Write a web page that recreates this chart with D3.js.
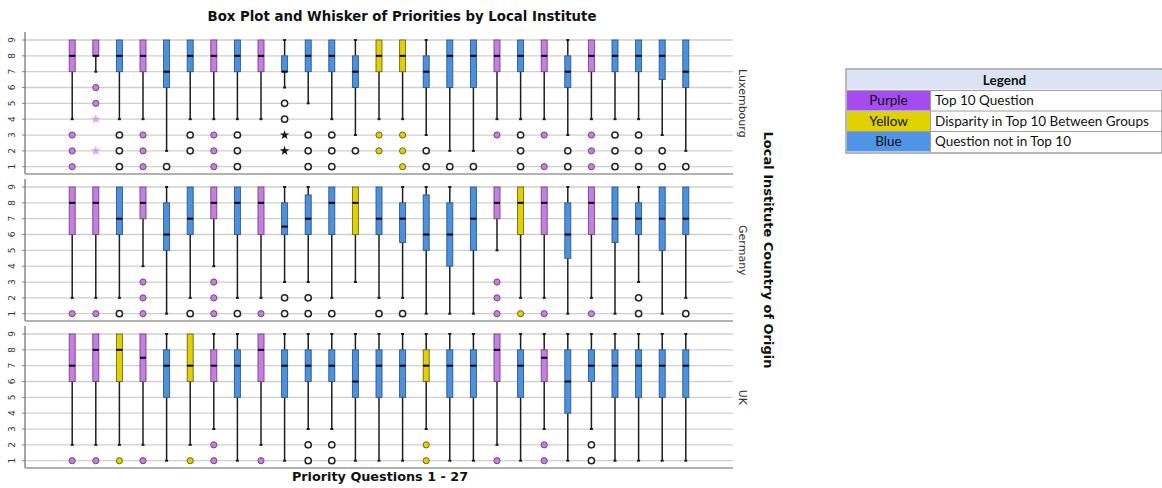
<!DOCTYPE html>
<html><head><meta charset="utf-8">
<script src="https://cdn.jsdelivr.net/npm/d3@7"></script>
<style>body{margin:0;background:#fff;} svg{display:block;}</style>
</head><body>
<svg id="c" width="1162" height="488"></svg>
<script>
// ---------- DATA ----------
const questions = [1,2,3,4,5,6,7,8,9,10,11,12,13,14,15,16,17,18,19,20,21,22,23,24,25,26,27];
const countries = ["Luxembourg","Germany","UK"];
const yTicks = [1,2,3,4,5,6,7,8,9];

// group: P = Top 10 Question, Y = Disparity, B = not in Top 10
const luxGroup = ["P","P","B","P","B","B","P","B","P","B","B","B","B","Y","Y","B","B","B","P","B","P","B","P","B","B","B","B"];
const luxLow   = [4,7,4,4,2,4,4,4,4,6,5,4,3,4,4,3,2,2,4,4,4,3,4,4,4,3,2];
const luxQ1    = [7,8,7,7,6,7,7,7,7,7,7,7,6,7,7,6,6,6,7,7,7,6,7,7,7,6.5,6];
const luxMed   = [8,8,8,8,7,8,8,8,8,7,8,8,7,8,8,7,8,8,8,8,8,7,8,8,8,8,7];
const luxQ3    = [9,9,9,9,9,9,9,9,9,8,9,9,8,9,9,8,9,9,9,9,9,8,9,9,9,9,9];
const luxHigh  = [9,9,9,9,9,9,9,9,9,9,9,9,9,9,9,9,9,9,9,9,9,9,9,9,9,9,9];
const luxOut   = [[3,2,1],[6,5],[3,2,1],[3,2,1],[1],[3,2],[3,2,1],[3,2,1],[],[5,4],[3,2,1],[3,2,1],[2],[3,2],[3,2,1],[2,1],[1],[1],[3],[3,2,1],[3,1],[2,1],[3,2,1],[3,2,1],[3,2,1],[2,1],[1]];
const luxExtreme = [[],[4,2],[],[],[],[],[],[],[],[3,2],[],[],[],[],[],[],[],[],[],[],[],[],[],[],[],[],[]];

const deGroup = ["P","P","B","P","B","B","P","B","P","B","B","B","Y","B","B","B","B","B","P","Y","P","B","P","B","B","B","B"];
const deLow   = [2,2,2,4,1,2,4,2,2,3,3,2,3,2,2,1,1,1,5,2,2,1,2,1,3,1,2];
const deQ1    = [6,6,6,7,5,6,7,6,6,6,6,6,6,6,5.5,5,4,5,7,6,6,4.5,6,5.5,6,5,6];
const deMed   = [8,8,7,8,6,7,8,8,8,6.5,7,8,8,7,7,6,6,7,8,8,8,6,8,7,7,7,7];
const deQ3    = [9,9,9,9,8,9,9,9,9,8,8.5,9,9,9,8,8.5,8,9,9,9,9,8,9,9,8,9,9];
const deHigh  = [9,9,9,9,9,9,9,9,9,9,9,9,9,9,9,9,9,9,9,9,9,9,9,9,9,9,9];
const deOut   = [[1],[1],[1],[3,2,1],[],[1],[3,2,1],[1],[1],[2,1],[2,1],[1],[],[1],[1],[],[],[],[3,2,1],[1],[1],[],[1],[],[2,1],[],[1]];
const deExtreme = [[],[],[],[],[],[],[],[],[],[],[],[],[],[],[],[],[],[],[],[],[],[],[],[],[],[],[]];

const ukGroup = ["P","P","Y","P","B","Y","P","B","P","B","B","B","B","B","B","Y","B","B","P","B","P","B","B","B","B","B","B"];
const ukLow   = [2,2,2,2,1,2,3,1,2,1,3,3,1,1,1,3,1,1,2,1,3,1,3,1,1,1,1];
const ukQ1    = [6,6,6,6,5,6,6,5,6,5,6,6,5,5,5,6,5,5,6,5,6,4,6,5,5,5,5];
const ukMed   = [7,8,8,7.5,7,7,7,7,8,7,7,7,6,7,7,7,7,7,8,7,7.5,6,7,7,7,7,7];
const ukQ3    = [9,9,9,9,8,9,8,8,9,8,8,8,8,8,8,8,8,8,9,8,8,8,8,8,8,8,8];
const ukHigh  = [9,9,9,9,9,9,9,9,9,9,9,9,9,9,9,9,9,9,9,9,9,9,9,9,9,9,9];
const ukOut   = [[1],[1],[1],[1],[],[1],[2,1],[],[1],[],[2,1],[2,1],[],[],[],[2,1],[],[],[1],[],[2,1],[],[2,1],[],[],[],[]];
const ukExtreme = [[],[],[],[],[],[],[],[],[],[],[],[],[],[],[],[],[],[],[],[],[],[],[],[],[],[],[]];

const legendNames = ["Purple","Yellow","Blue"];
const legendDesc  = ["Top 10 Question","Disparity in Top 10 Between Groups","Question not in Top 10"];

// ---------- BUILD ----------
const panels = [
  {name:countries[0], group:luxGroup, low:luxLow, q1:luxQ1, med:luxMed, q3:luxQ3, high:luxHigh, out:luxOut, ext:luxExtreme},
  {name:countries[1], group:deGroup, low:deLow, q1:deQ1, med:deMed, q3:deQ3, high:deHigh, out:deOut, ext:deExtreme},
  {name:countries[2], group:ukGroup, low:ukLow, q1:ukQ1, med:ukMed, q3:ukQ3, high:ukHigh, out:ukOut, ext:ukExtreme}
];

const boxFill = {P:"#c97ce3", Y:"#e3d000", B:"#4c90e0"};
const boxStroke = {P:"#6b4a78", Y:"#6e6520", B:"#2f5680"};
const dotFill = {P:"#c97ce3", Y:"#e3d000", B:"#ffffff"};
const legendFill = ["#a54cf0","#e0d200","#5094e6"];

const svg = d3.select("#c");
const fontMain = "'DejaVu Sans', sans-serif";

const left = 25, right = 733;
const x = d3.scalePoint().domain(questions).range([left, right]).padding(2);
const bw = 6;

svg.append("text").attr("x", 402).attr("y", 21).attr("text-anchor","middle")
  .style("font-family", fontMain).style("font-weight","bold").style("font-size","13.3px")
  .attr("fill","#111").text("Box Plot and Whisker of Priorities by Local Institute");

panels.forEach((p, i) => {
  const top = 40 + i * 147;
  const y = d3.scaleLinear().domain([1, 9]).range([top + 126.7, top]);
  const g = svg.append("g");
  const yTop = y(9) - 8, yBot = y(1) + 7.3;

  g.selectAll("line.grid").data(yTicks).join("line")
    .attr("x1", left).attr("x2", right).attr("y1", d => y(d)).attr("y2", d => y(d))
    .attr("stroke", "#cfcfcf").attr("stroke-width", 1.3);

  g.selectAll("text.tick").data(yTicks).join("text")
    .attr("transform", d => `translate(15,${y(d)}) rotate(-90)`)
    .attr("text-anchor","middle").attr("dy","0")
    .style("font-family", fontMain).style("font-size","9px").attr("fill","#333")
    .text(d => d);
  g.selectAll("line.tk").data(yTicks).join("line")
    .attr("x1", left - 3).attr("x2", left).attr("y1", d => y(d)).attr("y2", d => y(d))
    .attr("stroke", "#888").attr("stroke-width", 1);

  g.append("line").attr("x1", left).attr("x2", left).attr("y1", yTop).attr("y2", yBot)
    .attr("stroke","#777").attr("stroke-width",1.3);
  g.append("line").attr("x1", left).attr("x2", right).attr("y1", yBot).attr("y2", yBot)
    .attr("stroke","#999").attr("stroke-width",1.5);

  g.append("text").attr("transform", `translate(739,${(y(1)+y(9))/2}) rotate(90)`)
    .attr("text-anchor","middle")
    .style("font-family", fontMain).style("font-size","11px").attr("fill","#333")
    .text(p.name);

  questions.forEach((q, k) => {
    const cx = x(q);
    const grp = p.group[k];
    g.append("line").attr("x1",cx).attr("x2",cx).attr("y1",y(p.low[k])).attr("y2",y(p.q1[k]))
      .attr("stroke","#1d1d1d").attr("stroke-width",1.5);
    g.append("line").attr("x1",cx-1.5).attr("x2",cx+1.5).attr("y1",y(p.low[k])).attr("y2",y(p.low[k]))
      .attr("stroke","#1d1d1d").attr("stroke-width",2);
    if (p.high[k] > p.q3[k]) {
      g.append("line").attr("x1",cx).attr("x2",cx).attr("y1",y(p.high[k])).attr("y2",y(p.q3[k]))
        .attr("stroke","#1d1d1d").attr("stroke-width",1.5);
      g.append("line").attr("x1",cx-1.5).attr("x2",cx+1.5).attr("y1",y(p.high[k])).attr("y2",y(p.high[k]))
        .attr("stroke","#1d1d1d").attr("stroke-width",2);
    }
    g.append("rect").attr("x", cx - bw/2).attr("width", bw)
      .attr("y", y(p.q3[k])).attr("height", y(p.q1[k]) - y(p.q3[k]))
      .attr("fill", boxFill[grp]).attr("stroke", boxStroke[grp]).attr("stroke-width", 0.9);
    g.append("line").attr("x1",cx-bw/2).attr("x2",cx+bw/2).attr("y1",y(p.med[k])).attr("y2",y(p.med[k]))
      .attr("stroke","#000").attr("stroke-width",2);
    p.out[k].forEach(v => {
      g.append("circle").attr("cx",cx).attr("cy",y(v)).attr("r",3.1)
        .attr("fill", dotFill[grp])
        .attr("stroke", grp === "B" ? "#222" : boxStroke[grp])
        .attr("stroke-width", grp === "B" ? 1.5 : 1);
    });
    p.ext[k].forEach(v => {
      g.append("path").attr("transform",`translate(${cx},${y(v)})`)
        .attr("d", d3.symbol().type(d3.symbolStar).size(28)())
        .attr("fill", grp === "P" ? "#dc9cf3" : "#111");
    });
  });
});

svg.append("text").attr("x", 380).attr("y", 481).attr("text-anchor","middle")
  .style("font-family", fontMain).style("font-weight","bold").style("font-size","12.8px")
  .attr("fill","#111").text("Priority Questions 1 - 27");
svg.append("text").attr("transform","translate(764,250) rotate(90)").attr("text-anchor","middle")
  .style("font-family", fontMain).style("font-weight","bold").style("font-size","13px")
  .attr("fill","#111").text("Local Institute Country of Origin");

const lg = svg.append("g");
const lx = 847, lw = 315, cw = 83, rowH = 20.5, ly = 70;
lg.append("rect").attr("x", lx-1).attr("y", ly-1).attr("width", lw+1).attr("height", rowH*4+2)
  .attr("fill","#fff").attr("stroke","#a0a0a0").attr("stroke-width",1.5);
lg.append("rect").attr("x", lx).attr("y", ly).attr("width", lw).attr("height", rowH-1)
  .attr("fill","#dce3f4");
lg.append("text").attr("x", lx + lw/2).attr("y", ly + 14.5).attr("text-anchor","middle")
  .style("font-family","Lato, sans-serif").style("font-weight","bold").style("font-size","13.5px")
  .attr("fill","#111").text("Legend");
legendNames.forEach((n, i) => {
  const ry = ly + rowH*(i+1);
  lg.append("rect").attr("x", lx).attr("y", ry+0.5).attr("width", cw).attr("height", rowH-1)
    .attr("fill", legendFill[i]);
  lg.append("line").attr("x1", lx).attr("x2", lx+lw).attr("y1", ry).attr("y2", ry)
    .attr("stroke","#a0a0a0").attr("stroke-width",1);
  lg.append("line").attr("x1", lx+cw+0.5).attr("x2", lx+cw+0.5).attr("y1", ry).attr("y2", ry+rowH)
    .attr("stroke","#a0a0a0").attr("stroke-width",1);
  lg.append("text").attr("x", lx + cw/2).attr("y", ry + 14.5).attr("text-anchor","middle")
    .style("font-family","Lato, sans-serif").style("font-size","13.5px").attr("fill","#111").text(n);
  lg.append("text").attr("x", lx + cw + 5).attr("y", ry + 14.5)
    .style("font-family","Lato, sans-serif").style("font-size","13.5px").attr("fill","#111").text(legendDesc[i]);
});
</script>
</body></html>
